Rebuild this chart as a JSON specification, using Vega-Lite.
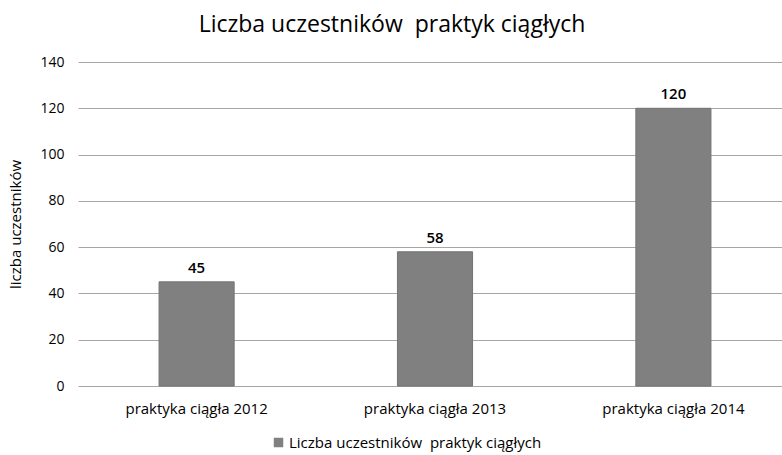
{
  "$schema": "https://vega.github.io/schema/vega-lite/v6.json",
  "width": 714,
  "height": 324,
  "autosize": "none",
  "padding": {"left": 78, "top": 62, "right": 0, "bottom": 69},
  "background": "white",
  "config": {"view": {"stroke": null}},
  "title": {
    "text": "Liczba uczestników\u00a0 praktyk ciągłych",
    "anchor": "middle",
    "dx": -43,
    "offset": 18,
    "fontSize": 23,
    "font": "Open Sans",
    "fontWeight": "normal",
    "color": "#000000"
  },
  "data": {
    "values": [
      {"kategoria": "praktyka ciągła 2012", "wartosc": 45, "seria": "Liczba uczestników\u00a0 praktyk ciągłych"},
      {"kategoria": "praktyka ciągła 2013", "wartosc": 58, "seria": "Liczba uczestników\u00a0 praktyk ciągłych"},
      {"kategoria": "praktyka ciągła 2014", "wartosc": 120, "seria": "Liczba uczestników\u00a0 praktyk ciągłych"}
    ]
  },
  "encoding": {
    "x": {
      "field": "kategoria",
      "type": "nominal",
      "sort": null,
      "scale": {"paddingInner": 0.685, "paddingOuter": 0.34},
      "axis": {
        "title": null,
        "labelAngle": 0,
        "labelFont": "Open Sans",
        "labelFontSize": 15,
        "labelColor": "#000000",
        "labelPadding": 15,
        "ticks": false,
        "domain": false
      }
    },
    "y": {
      "field": "wartosc",
      "type": "quantitative",
      "scale": {"domain": [0, 140], "nice": false},
      "axis": {
        "values": [0, 20, 40, 60, 80, 100, 120, 140],
        "title": "liczba uczestników",
        "titleFont": "Open Sans",
        "titleFontSize": 15,
        "titleFontWeight": "normal",
        "titleColor": "#000000",
        "titlePadding": 16,
        "labelFont": "Open Sans",
        "labelFontSize": 14,
        "labelColor": "#000000",
        "labelPadding": 14,
        "ticks": false,
        "domain": false,
        "grid": true,
        "gridColor": "#a6a6a6",
        "gridWidth": 1
      }
    }
  },
  "layer": [
    {
      "mark": {"type": "bar", "stroke": "#737373", "strokeWidth": 1},
      "encoding": {
        "color": {
          "field": "seria",
          "type": "nominal",
          "scale": {"range": ["#808080"]},
          "legend": {
            "title": null,
            "orient": "none",
            "legendX": 193,
            "legendY": 373,
            "symbolType": "square",
            "symbolSize": 90,
            "symbolStrokeWidth": 0,
            "labelFont": "Open Sans",
            "labelFontSize": 15,
            "labelColor": "#000000",
            "labelOffset": 3,
            "labelLimit": 400
          }
        }
      }
    },
    {
      "mark": {
        "type": "text",
        "dy": -14,
        "font": "Open Sans",
        "fontSize": 15,
        "fontWeight": 600,
        "color": "#000000"
      },
      "encoding": {
        "text": {"field": "wartosc", "type": "quantitative"}
      }
    }
  ]
}
